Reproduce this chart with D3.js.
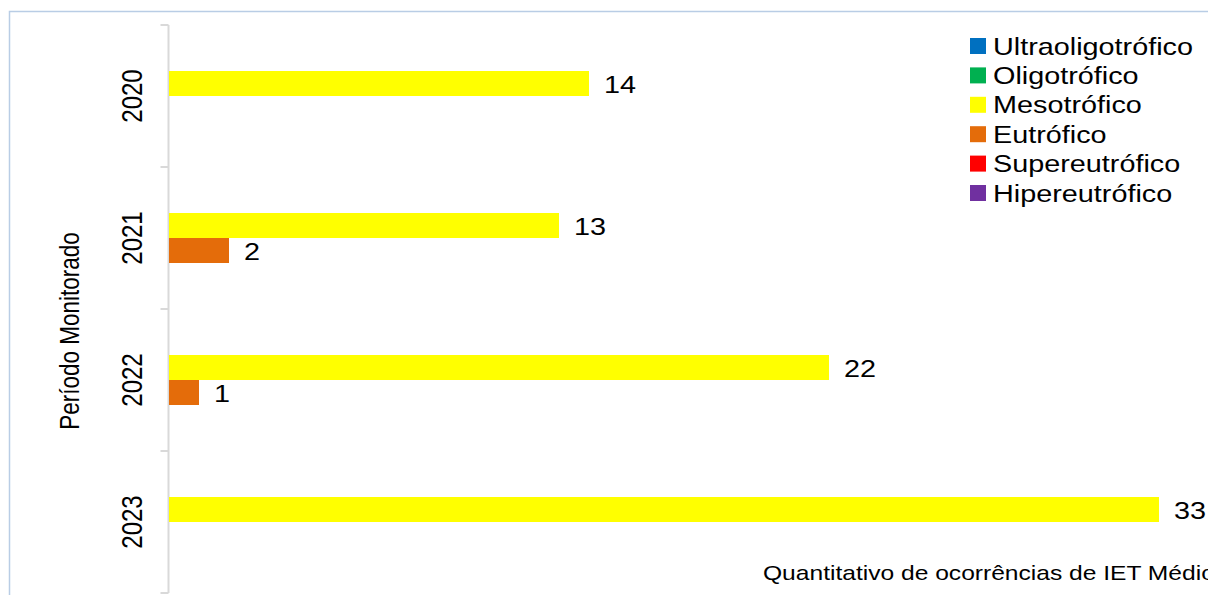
<!DOCTYPE html>
<html>
<head>
<meta charset="utf-8">
<script src="https://cdn.jsdelivr.net/npm/d3@7"></script>
<style>
html,body{margin:0;padding:0;background:#fff;overflow:hidden}
text{font-family:"Liberation Sans",Arial,sans-serif;fill:#000}
</style>
</head>
<body>
<svg id="chart" width="1208" height="595"></svg>
<script>
const years = ["2020", "2021", "2022", "2023"];
const seriesNames = ["Ultraoligotrófico", "Oligotrófico", "Mesotrófico", "Eutrófico", "Supereutrófico", "Hipereutrófico"];
const seriesColors = ["#0070c0", "#00b050", "#ffff00", "#e46c0a", "#ff0000", "#7030a0"];
const ultraValues = [0, 0, 0, 0];
const oligoValues = [0, 0, 0, 0];
const mesoValues = [14, 13, 22, 33];
const eutroValues = [0, 2, 1, 0];
const superValues = [0, 0, 0, 0];
const hiperValues = [0, 0, 0, 0];
const yTitle = "Período Monitorado";
const xTitle = "Quantitativo de ocorrências de IET Médio";

const allValues = [ultraValues, oligoValues, mesoValues, eutroValues, superValues, hiperValues];
const svg = d3.select("#chart");
const SX = 1.2; // horizontal stretch of text in reference

// frame
svg.append("rect").attr("x", 9.5).attr("y", 11.5).attr("width", 1400).attr("height", 800)
  .attr("fill", "#fff").attr("stroke", "#b9cde5").attr("stroke-width", 1.5);

const x = d3.scaleLinear().domain([0, 35]).range([169, 1219]);
const y = d3.scaleBand().domain(years).range([25, 593]).padding(0);
const ys = d3.scaleBand().domain(seriesNames).range([-75, 75]);

// axis
const axisG = svg.append("g").attr("transform", "translate(168.5,0)");
axisG.append("line").attr("y1", 25).attr("y2", 593).attr("stroke", "#d9d9d9").attr("stroke-width", 2);
const tickYs = years.map(d => y(d)).concat([y.range()[1]]);
axisG.selectAll("line.tick").data(tickYs).enter().append("line")
  .attr("class", "tick").attr("x1", -8).attr("x2", 0)
  .attr("y1", d => d).attr("y2", d => d)
  .attr("stroke", "#d9d9d9").attr("stroke-width", 2);

// year labels
svg.selectAll("text.year").data(years).enter().append("text")
  .attr("class", "year")
  .attr("transform", d => `translate(142,${y(d) + y.bandwidth() / 2}) scale(${SX},1) rotate(-90)`)
  .attr("text-anchor", "middle").style("font-size", "24px").text(d => d);

// bars
const barData = [];
allValues.forEach((vals, si) => {
  vals.forEach((v, yi) => {
    barData.push({ s: seriesNames[si], c: seriesColors[si], year: years[yi], v: v });
  });
});
const nz = barData.filter(d => d.v > 0);
svg.selectAll("rect.bar").data(nz).enter().append("rect")
  .attr("class", "bar")
  .attr("x", x(0))
  .attr("y", d => y(d.year) + y.bandwidth() / 2 + ys(d.s))
  .attr("width", d => x(d.v) - x(0))
  .attr("height", ys.bandwidth())
  .attr("fill", d => d.c);

svg.selectAll("text.val").data(nz).enter().append("text")
  .attr("class", "val")
  .attr("transform", d => `translate(${x(d.v) + 15},${y(d.year) + y.bandwidth() / 2 + ys(d.s) + ys.bandwidth() / 2 + 9}) scale(${SX},1)`)
  .style("font-size", "24px").text(d => d.v);

// legend
const lg = svg.append("g");
seriesNames.forEach((n, i) => {
  const cy = 46 + i * 29.4;
  lg.append("rect").attr("x", 970).attr("y", cy - 8).attr("width", 16).attr("height", 16).attr("fill", seriesColors[i]);
  lg.append("text").attr("transform", `translate(993,${cy + 8.5}) scale(${SX},1)`)
    .style("font-size", "24px").text(n);
});

// axis titles
svg.append("text").attr("transform", `translate(79,331) scale(${SX},1) rotate(-90)`)
  .attr("text-anchor", "middle").style("font-size", "22.5px").text(yTitle);
svg.append("text").attr("transform", `translate(763,580) scale(${SX},1)`)
  .style("font-size", "20.5px").text(xTitle);
</script>
</body>
</html>
